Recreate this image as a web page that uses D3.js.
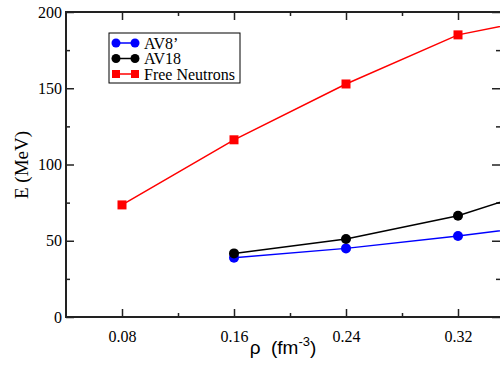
<!DOCTYPE html>
<html>
<head>
<meta charset="utf-8">
<script src="https://d3js.org/d3.v7.min.js"></script>
<style>
  body { margin: 0; background: #fff; }
</style>
</head>
<body>
<script>
// set the dimensions and margins of the graph
var margin = {top: 12, right: 0, bottom: 52, left: 66},
    width = 500 - margin.left - margin.right,
    height = 369 - margin.top - margin.bottom;

var serif = "Liberation Serif, DejaVu Serif, Times New Roman, serif";

// data
var densities = [0.08, 0.16, 0.24, 0.32, 0.40];
var av8 = [null, 38.8, 45.0, 53.1, 62.5];
var av18 = [null, 41.7, 51.1, 66.4, 90.0];
var freeNeutrons = [73.5, 116.2, 152.8, 185.0, 199.5];
var xTicks = [0.08, 0.16, 0.24, 0.32];
var xMinor = [0.12, 0.20, 0.28];
var yTicks = [0, 50, 100, 150, 200];
var yMinor = [25, 75, 125, 175];

var series = [
  {name: "AV8\u2019", values: av8, color: "#0000ff", symbol: "circle"},
  {name: "AV18", values: av18, color: "#000000", symbol: "circle"},
  {name: "Free Neutrons", values: freeNeutrons, color: "#ff0000", symbol: "square"}
];

var x = d3.scaleLinear().domain([0.04, 0.35]).range([0, width]);
var y = d3.scaleLinear().domain([0, 200]).range([height, 0]);

var svg = d3.select("body").append("svg")
    .attr("width", 500)
    .attr("height", 369)
  .append("g")
    .attr("transform", "translate(" + margin.left + "," + margin.top + ")");

svg.append("defs").append("clipPath")
    .attr("id", "clip")
  .append("rect")
    .attr("width", width)
    .attr("height", height);

// axes, ticks point inward
function axisStyle(g) {
  g.attr("font-family", null).attr("font-size", null);
  g.select(".domain").remove();
  g.selectAll(".tick line").attr("stroke", "#222").attr("stroke-width", 1.5);
  g.selectAll(".tick text")
      .attr("fill", "#000")
      .style("font-family", serif)
      .style("font-size", "16px");
}

svg.append("g")
    .attr("transform", "translate(0," + height + ")")
    .call(d3.axisBottom(x).tickValues(xTicks).tickSize(-8).tickPadding(14).tickFormat(d3.format(".2f")))
    .call(axisStyle);
svg.append("g")
    .attr("transform", "translate(0," + height + ")")
    .call(d3.axisBottom(x).tickValues(xMinor).tickSize(-4).tickFormat(""))
    .call(axisStyle);
svg.append("g")
    .call(d3.axisTop(x).tickValues(xTicks).tickSize(-8).tickFormat(""))
    .call(axisStyle);
svg.append("g")
    .call(d3.axisTop(x).tickValues(xMinor).tickSize(-4).tickFormat(""))
    .call(axisStyle);

svg.append("g")
    .call(d3.axisLeft(y).tickValues(yTicks).tickSize(-8).tickPadding(4))
    .call(axisStyle);
svg.append("g")
    .call(d3.axisLeft(y).tickValues(yMinor).tickSize(-4).tickFormat(""))
    .call(axisStyle);
svg.append("g")
    .attr("transform", "translate(" + width + ",0)")
    .call(d3.axisRight(y).tickValues(yTicks).tickSize(-8).tickFormat(""))
    .call(axisStyle);
svg.append("g")
    .attr("transform", "translate(" + width + ",0)")
    .call(d3.axisRight(y).tickValues(yMinor).tickSize(-4).tickFormat(""))
    .call(axisStyle);

// frame (left, bottom, top)
svg.append("path")
    .attr("d", "M" + width + ",0H0V" + height + "H" + width)
    .attr("fill", "none")
    .attr("stroke", "#222")
    .attr("stroke-width", 2);

// lines and symbols
var line = d3.line()
    .defined(function(d) { return d.v != null; })
    .x(function(d) { return x(d.x); })
    .y(function(d) { return y(d.v); });

var plot = svg.append("g").attr("clip-path", "url(#clip)");

series.forEach(function(s) {
  var pts = densities.map(function(d, i) { return {x: d, v: s.values[i]}; });
  plot.append("path")
      .datum(pts)
      .attr("fill", "none")
      .attr("stroke", s.color)
      .attr("stroke-width", 1.5)
      .attr("d", line);
  var dots = pts.filter(function(d) { return d.v != null; });
  if (s.symbol == "circle") {
    plot.selectAll(null).data(dots).enter().append("circle")
        .attr("cx", function(d) { return x(d.x); })
        .attr("cy", function(d) { return y(d.v); })
        .attr("r", 5)
        .attr("fill", s.color);
  } else {
    plot.selectAll(null).data(dots).enter().append("rect")
        .attr("x", function(d) { return x(d.x) - 4.5; })
        .attr("y", function(d) { return y(d.v) - 4.5; })
        .attr("width", 9)
        .attr("height", 9)
        .attr("fill", s.color);
  }
});

// legend
var legend = svg.append("g").attr("transform", "translate(" + (109 - margin.left) + "," + (33 - margin.top) + ")");
legend.append("rect")
    .attr("width", 131)
    .attr("height", 50)
    .attr("fill", "#fff")
    .attr("stroke", "#000")
    .attr("stroke-width", 1);
series.forEach(function(s, i) {
  var ly = 10 + i * 15.5;
  var row = legend.append("g").attr("transform", "translate(0," + ly + ")");
  row.append("line")
      .attr("x1", 7).attr("x2", 26)
      .attr("stroke", s.color).attr("stroke-width", 1.5);
  [7, 26].forEach(function(cx) {
    if (s.symbol == "circle") {
      row.append("circle").attr("cx", cx).attr("r", 4.5).attr("fill", s.color);
    } else {
      row.append("rect").attr("x", cx - 4).attr("y", -4).attr("width", 8).attr("height", 8).attr("fill", s.color);
    }
  });
  row.append("text")
      .attr("x", 35)
      .attr("y", 5.5)
      .style("font-family", serif)
      .style("font-size", "16px")
      .text(s.name);
});

// axis titles
svg.append("text")
    .attr("transform", "translate(" + (28 - margin.left) + "," + (165 - margin.top) + ") rotate(-90)")
    .style("text-anchor", "middle")
    .style("font-family", serif)
    .style("font-size", "19px")
    .text("E (MeV)");

var xt = svg.append("text")
    .attr("x", 283 - margin.left)
    .attr("y", 354 - margin.top)
    .style("text-anchor", "middle")
    .style("white-space", "pre")
    .style("font-family", "Liberation Sans, Arial, sans-serif")
    .style("font-size", "19px");
xt.append("tspan").text("\u03c1  (fm");
xt.append("tspan").attr("dy", -8).style("font-size", "13px").text("-3");
xt.append("tspan").attr("dy", 8).text(")");
</script>
</body>
</html>
